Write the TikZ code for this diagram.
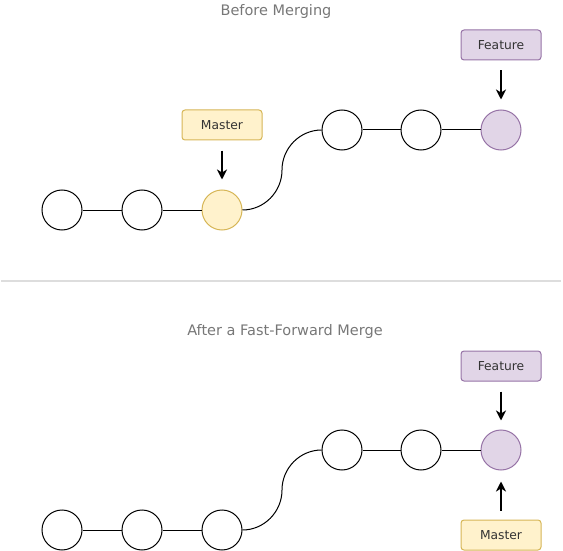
\documentclass[tikz,border=0pt]{standalone}
\usepackage{fontspec}
\setmainfont{DejaVu Sans}
\usetikzlibrary{arrows.meta}
\definecolor{yfill}{HTML}{FFF2CC}
\definecolor{ydraw}{HTML}{D6B656}
\definecolor{pfill}{HTML}{E1D5E7}
\definecolor{pdraw}{HTML}{9673A6}
\definecolor{titlegray}{HTML}{777777}
\definecolor{labeltext}{HTML}{333333}
\definecolor{sepgray}{HTML}{DDDDDD}
\begin{document}
\begin{tikzpicture}[x=1pt,y=-1pt,
  commit/.style={circle,draw=black,line width=1pt,fill=white,minimum size=40pt,inner sep=0pt},
  tipcommit/.style={commit,draw=pdraw,fill=pfill},
  mastercommit/.style={commit,draw=ydraw,fill=yfill},
  branchbox/.style={rectangle,rounded corners=3pt,line width=1pt,minimum width=80pt,minimum height=30pt,inner sep=0pt,text=labeltext,font=\fontsize{12.3}{14}\selectfont},
  masterbox/.style={branchbox,draw=ydraw,fill=yfill},
  featurebox/.style={branchbox,draw=pdraw,fill=pfill},
  titletext/.style={text=titlegray,font=\fontsize{14.5}{17}\selectfont,inner sep=0pt},
  link/.style={line width=1pt,draw=black},
  ptr/.style={line width=2pt,draw=black,-{Stealth[length=10pt,width=10pt,inset=3pt]}},
]
\useasboundingbox (0,0) rectangle (563,551);

% ---------- Before merging ----------
\node[titletext] (t1) at (276,12) {Before Merging};
\node[commit] (a1) at (62,210) {};
\node[commit] (a2) at (142,210) {};
\node[mastercommit] (a3) at (222,210) {};
\node[commit] (b1) at (342,130) {};
\node[commit] (b2) at (421,130) {};
\node[tipcommit] (b3) at (501,130) {};
\node[masterbox] (m1) at (222,125) {Master};
\node[featurebox] (f1) at (501,45) {Feature};
\draw[link] (a1) -- (a2);
\draw[link] (a2) -- (a3);
\draw[link] (a3.east) .. controls (264,210) and (282,192) .. (282,170) .. controls (282,148) and (300,130) .. (b1.west);
\draw[link] (b1) -- (b2);
\draw[link] (b2) -- (b3);
\draw[ptr,shorten <=10pt,shorten >=10pt] (m1.south) -- (a3.north);
\draw[ptr,shorten <=10pt,shorten >=10pt] (f1.south) -- (b3.north);

% ---------- separator ----------
\coordinate (sepL) at (1,280.5);
\coordinate (sepR) at (561,280.5);
\draw[sepgray,line width=2pt] (sepL) -- (sepR);

% ---------- After fast-forward ----------
\node[titletext] (t2) at (285,331) {After a Fast-Forward Merge};
\node[commit] (c1) at (62,530) {};
\node[commit] (c2) at (142,530) {};
\node[commit] (c3) at (222,530) {};
\node[commit] (d1) at (342,450) {};
\node[commit] (d2) at (421,450) {};
\node[tipcommit] (d3) at (501,450) {};
\node[featurebox] (f2) at (501,366) {Feature};
\node[masterbox] (m2) at (501,535) {Master};
\draw[link] (c1) -- (c2);
\draw[link] (c2) -- (c3);
\draw[link] (c3.east) .. controls (264,530) and (282,512) .. (282,490) .. controls (282,468) and (300,450) .. (d1.west);
\draw[link] (d1) -- (d2);
\draw[link] (d2) -- (d3);
\draw[ptr,shorten <=10pt,shorten >=9pt] (f2.south) -- (d3.north);
\draw[ptr,shorten <=9pt,shorten >=11pt] (m2.north) -- (d3.south);
\end{tikzpicture}
\end{document}
